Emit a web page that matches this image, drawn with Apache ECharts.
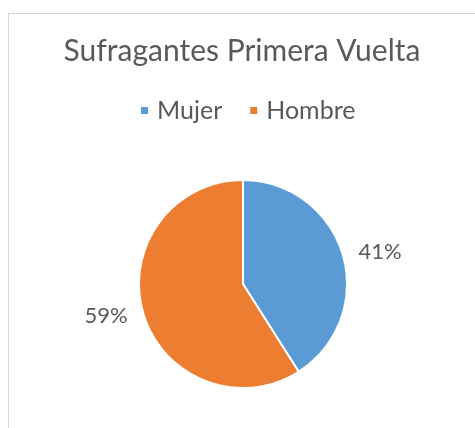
<!DOCTYPE html>
<html>
<head>
<meta charset="utf-8">
<script src="https://cdn.jsdelivr.net/npm/echarts@6/dist/echarts.min.js"></script>
<style>
  html, body { margin: 0; padding: 0; background: #fff; overflow: hidden; }
  #chart { width: 475px; height: 428px; }
</style>
</head>
<body>
<div id="chart"></div>
<script>
const categories = ['Mujer', 'Hombre'];
const shares = [41, 59];
const colors = ['#5B9BD5', '#ED7D31'];

let chart = echarts.init(document.getElementById('chart'));
let option = {
  animation: false,
  color: colors,
  textStyle: { fontFamily: 'Lato' },
  graphic: [
    // marco del gráfico (solo se ven el borde superior e izquierdo)
    { type: 'line', shape: { x1: 8, y1: 13.5, x2: 475, y2: 13.5 }, style: { stroke: '#d9d9d9', lineWidth: 1 } },
    { type: 'line', shape: { x1: 8.5, y1: 13, x2: 8.5, y2: 428 }, style: { stroke: '#d9d9d9', lineWidth: 1 } }
  ],
  title: {
    text: 'Sufragantes Primera Vuelta',
    left: 237,
    textAlign: 'center',
    top: 31,
    textStyle: { fontSize: 30, fontWeight: 'normal', color: '#595959', fontFamily: 'Lato' }
  },
  legend: {
    data: categories,
    left: 134,
    top: 93,
    icon: 'rect',
    itemWidth: 9,
    itemHeight: 9,
    itemGap: 26,
    textStyle: { fontSize: 25, color: '#595959', fontFamily: 'Lato', padding: [0, 0, 0, 3] }
  },
  series: [{
    type: 'pie',
    center: [243, 284],
    radius: 104,
    startAngle: 90,
    clockwise: true,
    data: categories.map((name, i) => ({ name: name, value: shares[i] })),
    itemStyle: { borderColor: '#fff', borderWidth: 2 },
    label: {
      show: true,
      position: 'outside',
      formatter: '{d}%',
      fontSize: 22,
      color: '#595959',
      fontFamily: 'Lato'
    },
    labelLine: { show: false, length: 11, length2: 0 },
    emphasis: { disabled: true }
  }]
};

chart.setOption(option);
window.addEventListener('resize', function () {
  chart.resize();
});
</script>
</body>
</html>
